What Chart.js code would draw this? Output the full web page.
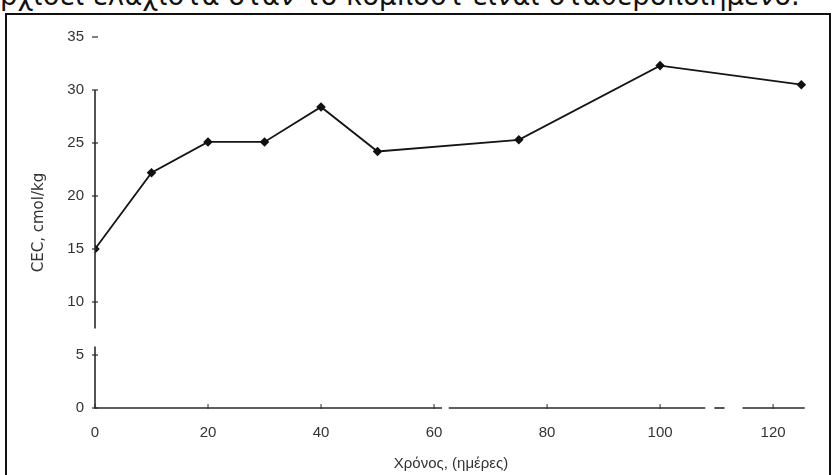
<!DOCTYPE html>
<html>
<head>
<meta charset="utf-8">
<script src="https://cdn.jsdelivr.net/npm/chart.js@4"></script>
<style>
  body { margin: 0; background: #fff; width: 832px; height: 475px; overflow: hidden; position: relative; }
  #caption {
    position: absolute; left: 0; top: -18px; white-space: nowrap;
    font: 27.5px "DejaVu Sans", sans-serif; line-height: 27px; color: #111;
  }
  #frame {
    position: absolute; left: 5px; top: 13px; width: 822px; height: 480px;
    border-left: 2px solid #111; border-top: 2px solid #111; border-right: 2px solid #111;
  }
  #wrap { position: absolute; left: 0; top: 0; width: 832px; height: 475px; }
</style>
</head>
<body>
<div id="caption">ρχίσει ελάχιστα όταν το κομπόστ είναι σταθεροποιημένο.</div>
<div id="frame"></div>
<div id="wrap"><canvas id="myChart" width="832" height="475"></canvas></div>
<script>
// compost age in days and measured CEC
const days = [0, 10, 20, 30, 40, 50, 75, 100, 125];
const cec = [15, 22.2, 25.1, 25.1, 28.4, 24.2, 25.3, 32.3, 30.5];

const xTicks = [0, 20, 40, 60, 80, 100, 120];
const yTicks = [0, 5, 10, 15, 20, 25, 30, 35];

const xTitle = 'Χρόνος, (ημέρες)';
const yTitle = 'CEC, cmol/kg';

// axis pieces (in data units), the scanned axes are broken in places
const yAxisParts = [[30, 7.5], [5.8, 0]];
const xAxisParts = [[0, 61.4], [62.6, 108], [109.6, 111.4], [114.6, 125.6]];

const axisPlugin = {
  id: 'handAxes',
  afterDatasetsDraw(chart) {
    const ctx = chart.ctx;
    const xs = chart.scales.x, ys = chart.scales.y;
    const x0 = xs.getPixelForValue(0), y0 = ys.getPixelForValue(0);
    ctx.save();
    ctx.strokeStyle = '#2a2a2a';
    ctx.lineWidth = 1.6;
    yAxisParts.forEach(p => {
      ctx.beginPath();
      ctx.moveTo(x0, ys.getPixelForValue(p[0]));
      ctx.lineTo(x0, ys.getPixelForValue(p[1]));
      ctx.stroke();
    });
    xAxisParts.forEach(p => {
      ctx.beginPath();
      ctx.moveTo(xs.getPixelForValue(p[0]), y0);
      ctx.lineTo(xs.getPixelForValue(p[1]), y0);
      ctx.stroke();
    });
    ctx.lineWidth = 1.2;
    yTicks.forEach(v => {
      const y = ys.getPixelForValue(v);
      ctx.beginPath();
      ctx.moveTo(x0 - 3, y);
      ctx.lineTo(x0 + 3, y);
      ctx.stroke();
    });
    ctx.lineWidth = 1;
    xTicks.forEach(v => {
      const x = xs.getPixelForValue(v);
      ctx.beginPath();
      ctx.moveTo(x, y0 + 1);
      ctx.lineTo(x, y0 - 4);
      ctx.stroke();
    });
    ctx.restore();
  }
};

const ctx = document.getElementById('myChart').getContext('2d');

new Chart(ctx, {
  type: 'line',
  data: {
    datasets: [{
      data: days.map((d, i) => ({ x: d, y: cec[i] })),
      borderColor: '#151515',
      borderWidth: 1.8,
      pointBackgroundColor: '#111',
      pointBorderColor: '#111',
      pointRadius: 3.5,
      pointStyle: 'rectRot',
      tension: 0,
      fill: false
    }]
  },
  options: {
    responsive: false,
    animation: false,
    layout: { padding: { left: 20, top: 37, right: 25, bottom: 0 } },
    plugins: { legend: { display: false }, tooltip: { enabled: false } },
    scales: {
      x: {
        type: 'linear',
        min: 0,
        max: 126,
        afterFit: s => { s.height = 67; },
        afterBuildTicks: s => { s.ticks = xTicks.map(v => ({ value: v })); },
        grid: { display: false, drawTicks: false },
        border: { display: false },
        ticks: { padding: 16, color: '#333', font: { family: 'Liberation Sans', size: 15 }, maxRotation: 0 },
        title: { display: true, text: xTitle, color: '#333', padding: { top: 0, bottom: 2 }, font: { family: 'Liberation Sans', size: 15 } }
      },
      y: {
        min: 0,
        max: 35,
        afterFit: s => { s.width = 75; },
        afterBuildTicks: s => { s.ticks = yTicks.map(v => ({ value: v })); },
        grid: { display: false, drawTicks: false },
        border: { display: false },
        ticks: { padding: 11, color: '#333', font: { family: 'Liberation Sans', size: 15 } },
        title: { display: true, text: yTitle, color: '#333', padding: { top: 10, bottom: 0 }, font: { family: 'DejaVu Sans', size: 15 } }
      }
    }
  },
  plugins: [axisPlugin]
});
</script>
</body>
</html>
